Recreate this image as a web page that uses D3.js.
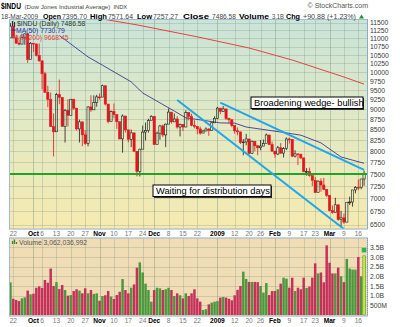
<!DOCTYPE html>
<html lang="en">
<head>
<meta charset="utf-8">
<title>$INDU daily</title>
<script src="https://d3js.org/d3.v7.min.js"></script>
<style>
  body { margin: 0; background: #fff; }
  svg text { font-family: "Liberation Sans", Arial, sans-serif; }
</style>
</head>
<body>
<div id="chart"></div>
<script>
"use strict";

// trading days shown on the chart
var dates = [
  '2008-09-19','2008-09-22','2008-09-23','2008-09-24','2008-09-25','2008-09-26','2008-09-29','2008-09-30',
  '2008-10-01','2008-10-02','2008-10-03','2008-10-06','2008-10-07','2008-10-08','2008-10-09','2008-10-10','2008-10-13','2008-10-14','2008-10-15','2008-10-16','2008-10-17','2008-10-20','2008-10-21','2008-10-22','2008-10-23','2008-10-24','2008-10-27','2008-10-28','2008-10-29','2008-10-30','2008-10-31',
  '2008-11-03','2008-11-04','2008-11-05','2008-11-06','2008-11-07','2008-11-10','2008-11-11','2008-11-12','2008-11-13','2008-11-14','2008-11-17','2008-11-18','2008-11-19','2008-11-20','2008-11-21','2008-11-24','2008-11-25','2008-11-26','2008-11-28',
  '2008-12-01','2008-12-02','2008-12-03','2008-12-04','2008-12-05','2008-12-08','2008-12-09','2008-12-10','2008-12-11','2008-12-12','2008-12-15','2008-12-16','2008-12-17','2008-12-18','2008-12-19','2008-12-22','2008-12-23','2008-12-24','2008-12-26','2008-12-29','2008-12-30','2008-12-31',
  '2009-01-02','2009-01-05','2009-01-06','2009-01-07','2009-01-08','2009-01-09','2009-01-12','2009-01-13','2009-01-14','2009-01-15','2009-01-16','2009-01-20','2009-01-21','2009-01-22','2009-01-23','2009-01-26','2009-01-27','2009-01-28','2009-01-29','2009-01-30',
  '2009-02-02','2009-02-03','2009-02-04','2009-02-05','2009-02-06','2009-02-09','2009-02-10','2009-02-11','2009-02-12','2009-02-13','2009-02-17','2009-02-18','2009-02-19','2009-02-20','2009-02-23','2009-02-24','2009-02-25','2009-02-26','2009-02-27',
  '2009-03-02','2009-03-03','2009-03-04','2009-03-05','2009-03-06','2009-03-09','2009-03-10','2009-03-11','2009-03-12','2009-03-13','2009-03-16','2009-03-17','2009-03-18'
];

var opens = [11019,11388,11016,10854,10825,11022,11143,10365,10851,10831,10483,10325,9956,9447,9258,8579,8451,9388,9311,8578,8979,8852,9265,9034,8519,8691,8379,8176,9065,8991,9181,
  9325,9320,9625,9139,8696,8944,8871,8694,8283,8835,8497,8274,8425,7997,7552,8046,8443,8479,8727,
  8829,8149,8419,8592,8376,8635,8934,8691,8761,8565,8630,8565,8924,8824,8605,8579,8520,8419,8468,8516,8484,8668,
  8776,9035,8953,9015,8770,8742,8599,8474,8449,8200,8212,8281,7949,8228,8123,8078,8116,8175,8375,8149,
  8001,7937,8078,7957,8063,8281,8271,7889,7940,7933,7850,7553,7556,7466,7366,7115,7351,7271,7182,
  7063,6763,6726,6876,6594,6627,6547,6926,6930,7170,7224,7217,7396];
var highs = [11483,11391,11112,10952,11145,11158,11143,10889,10852,10836,10844,10325,10012,9622,9439,8901,9427,9794,9311,9014,9266,9268,9265,9034,8746,8691,8492,9084,9368,9367,9381,
  9414,9654,9625,9139,8974,9153,8871,8694,8876,8835,8497,8505,8425,8005,8053,8599,8674,8767,8854,
  8829,8453,8618,8626,8651,9026,8934,8899,8831,8650,8630,8981,8924,8892,8733,8580,8577,8498,8557,8538,8681,8830,
  9065,9035,9089,9015,8794,8756,8605,8555,8449,8281,8400,8281,8242,8228,8142,8257,8268,8411,8375,8220,
  8002,8121,8185,8091,8315,8315,8271,8021,7940,7933,7850,7626,7637,7466,7440,7365,7411,7419,7183,
  7063,6863,7013,6876,6759,6710,6926,7037,7170,7248,7385,7396,7572];
var lows = [11019,11006,10840,10788,10825,10806,10266,10365,10584,10455,10300,9525,9440,9058,8565,7882,8451,9136,8578,8198,8575,8852,8990,8482,8199,8113,8143,8111,8940,8991,9071,
  9252,9320,9103,8653,8693,8781,8522,8273,7966,8434,8203,8092,7995,7450,7449,8046,8244,8432,8727,
  8142,8149,8263,8325,8093,8635,8648,8686,8525,8340,8469,8565,8727,8580,8533,8391,8380,8419,8468,8355,8484,8668,
  8760,8880,8940,8741,8652,8561,8404,8368,8164,7910,8135,7939,7941,7999,7909,8020,8113,8175,8143,7990,
  7853,7912,7940,7858,8025,8175,7865,7860,7693,7824,7536,7464,7444,7250,7113,7115,7134,7166,7027,
  6753,6705,6726,6573,6470,6517,6547,6871,6840,7104,7166,7184,7257];
var closes = [11388,11016,10854,10825,11022,11143,10365,10851,10831,10483,10325,9956,9447,9258,8579,8451,9388,9311,8578,8979,8852,9265,9034,8519,8691,8379,8176,9065,8991,9181,9325,
  9320,9625,9139,8696,8944,8871,8694,8283,8835,8497,8274,8425,7997,7552,8046,8443,8479,8727,8829,
  8149,8419,8592,8376,8635,8934,8691,8761,8565,8630,8565,8924,8824,8605,8579,8520,8419,8468,8516,8484,8668,8776,
  9035,8953,9015,8770,8742,8599,8474,8449,8200,8212,8281,7949,8228,8123,8078,8116,8175,8375,8149,8001,
  7937,8078,7957,8063,8281,8271,7889,7940,7933,7850,7553,7556,7466,7366,7115,7351,7271,7182,7063,
  6763,6726,6876,6594,6627,6547,6926,6930,7170,7224,7217,7396,7487];
// volume in billions of shares
var volumes = [1.69,0.84,0.78,0.72,0.86,0.91,1.26,1.07,1.10,1.41,1.48,1.40,1.81,1.67,2.40,1.50,1.70,1.34,1.55,1.29,1.00,1.03,1.24,1.33,1.26,1.12,1.38,1.12,1.29,1.09,1.12,
  0.74,0.98,1.02,1.24,0.95,0.83,1.03,1.20,1.86,1.29,1.12,1.41,1.58,2.45,2.72,2.20,1.62,1.29,0.69,
  1.29,1.41,1.38,1.29,1.33,1.41,1.29,0.98,1.12,1.02,0.86,1.12,0.98,1.12,1.33,0.86,0.69,0.26,0.30,0.55,0.64,0.69,
  0.72,0.90,0.93,0.90,0.84,0.76,1.02,1.30,1.50,2.24,1.86,1.71,1.71,1.71,1.70,1.50,1.16,1.65,1.03,1.24,
  1.24,1.33,1.62,1.93,1.88,1.41,1.93,1.24,1.41,1.33,1.93,1.40,1.47,1.93,2.67,2.15,2.20,1.69,3.60,
  2.70,2.15,2.15,2.45,2.00,1.70,2.90,2.40,2.35,2.35,3.00,2.00,3.06];

var ma50Dates = ['2008-10-14','2008-10-16','2008-10-28','2008-11-04','2008-11-18','2008-11-24','2008-12-03','2008-12-10','2008-12-16','2008-12-23','2009-01-05','2009-01-12','2009-01-16','2009-02-04','2009-02-13','2009-02-25','2009-03-06','2009-03-18'];
var ma50Values = [11090,10960,10440,10200,9730,9430,9170,8960,8790,8740,8665,8660,8565,8445,8370,8190,7870,7731];
var ma200Dates = ['2008-11-04','2008-11-20','2008-12-22','2009-01-20','2009-02-10','2009-03-09','2009-03-18'];
var ma200Values = [11620,11430,11050,10707,10350,9865,9668];

// trend lines drawn by the author: [date, price] pairs
var trendLines = [
  [['2008-12-11', 9244], ['2009-03-09', 6422]],
  [['2009-01-05', 9177], ['2009-03-18', 7588]]
];
var supportLevel = 7500;

var notes = [
  {text: 'Broadening wedge- bullish', date: '2009-01-21', price: 9323, w: 112},
  {text: 'Waiting for distribution days', date: '2008-12-01', price: 7270, w: 118}
];

var priceTicks = [6500,6750,7000,7250,7500,7750,8000,8250,8500,8750,9000,9250,9500,9750,10000,10250,10500,10750,11000,11250,11500];
var volTicks = [0.5,1.0,1.5,2.0,2.5,3.0,3.5];
var volTickLabels = ['500M','1.0B','1.5B','2.0B','2.5B','3.0B','3.5B'];
var tickDates = ['2008-09-22','2008-10-01','2008-10-06','2008-10-13','2008-10-20','2008-10-27','2008-11-03','2008-11-10','2008-11-17','2008-11-24','2008-12-01','2008-12-08','2008-12-15','2008-12-22','2009-01-02','2009-01-12','2009-01-20','2009-01-26','2009-02-02','2009-02-09','2009-02-17','2009-02-23','2009-03-02','2009-03-09','2009-03-16'];
var tickLabels = ['22','Oct','6','13','20','27','Nov','10','17','24','Dec','8','15','22','2009','12','20','26','Feb','9','17','23','Mar','9','16'];

var RED = '#e3141b', UP = '#1a1a1a';
var VRED = '#c4325c', VGREEN = '#4b983f';

var left = 9.5, right = 367.5;
var pTop = 19.5, pBot = 229, vTop = 238, vBot = 316;

var svg = d3.select('#chart').append('svg')
  .attr('width', 400).attr('height', 327);

var x = d3.scaleBand().domain(dates).range([9, 365.5]);
function cx(d) { return x(d) + x.bandwidth() / 2; }
var y = d3.scaleLog().domain([6500, 11500]).range([224.7, 22.7]);
var yv = d3.scaleLinear().domain([0, 3.5]).range([315, 247.3]);

var defs = svg.append('defs');
var grad = defs.append('linearGradient').attr('id', 'bgp')
  .attr('x1', 0).attr('y1', 0).attr('x2', 0).attr('y2', 1);
grad.append('stop').attr('offset', '0%').attr('stop-color', '#c9e4d9');
grad.append('stop').attr('offset', '50%').attr('stop-color', '#e2e9c4');
grad.append('stop').attr('offset', '100%').attr('stop-color', '#f6eab0');
defs.append('clipPath').attr('id', 'clipP').append('rect')
  .attr('x', left).attr('y', pTop).attr('width', right - left).attr('height', pBot - pTop);

/* panel backgrounds */
svg.append('rect').attr('x', left).attr('y', pTop).attr('width', right - left).attr('height', pBot - pTop)
  .attr('fill', 'url(#bgp)');
svg.append('rect').attr('x', left).attr('y', vTop).attr('width', right - left).attr('height', vBot - vTop)
  .attr('fill', '#f1ddb5');

/* gridlines */
var grid = svg.append('g').attr('stroke', '#7d9680').attr('stroke-opacity', 0.3).attr('stroke-width', 1);
grid.selectAll('.hp').data(priceTicks).enter().append('line')
  .attr('x1', left).attr('x2', right)
  .attr('y1', function(d) { return Math.round(y(d)) + 0.5; })
  .attr('y2', function(d) { return Math.round(y(d)) + 0.5; });
grid.selectAll('.hv').data(volTicks).enter().append('line')
  .attr('x1', left).attr('x2', right)
  .attr('y1', function(d) { return Math.round(yv(d)) + 0.5; })
  .attr('y2', function(d) { return Math.round(yv(d)) + 0.5; });
tickDates.forEach(function(d, i) {
  var xx = Math.round(cx(d)) + 0.5;
  var month = isNaN(+tickLabels[i]) || tickLabels[i].length == 4;
  [[pTop, pBot], [vTop, vBot]].forEach(function(r) {
    grid.append('line').attr('x1', xx).attr('x2', xx).attr('y1', r[0]).attr('y2', r[1])
      .attr('stroke-opacity', month ? 0.45 : 0.3);
  });
});

/* price marks */
var price = svg.append('g').attr('clip-path', 'url(#clipP)');

price.append('path')
  .datum(ma200Dates.map(function(d, i) { return [cx(d), y(ma200Values[i])]; }))
  .attr('d', d3.line()).attr('fill', 'none').attr('stroke', '#e8413f').attr('stroke-width', 1);
price.append('path')
  .datum(ma50Dates.map(function(d, i) { return [cx(d), y(ma50Values[i])]; }))
  .attr('d', d3.line()).attr('fill', 'none').attr('stroke', '#4b4a98').attr('stroke-width', 1);

var candles = price.selectAll('g.candle').data(dates).enter().append('g');
candles.append('path')
  .attr('d', function(d, i) {
    var top = y(Math.max(opens[i], closes[i])), bot = y(Math.min(opens[i], closes[i]));
    return 'M' + cx(d) + ',' + y(highs[i]) + 'V' + top + 'M' + cx(d) + ',' + bot + 'V' + y(lows[i]);
  })
  .attr('stroke', function(d, i) { return closes[i] < (i ? closes[i - 1] : opens[0]) ? RED : UP; })
  .attr('stroke-width', 0.8);
candles.append('rect')
  .attr('x', function(d) { return cx(d) - 1.1; })
  .attr('width', 2.2)
  .attr('y', function(d, i) { return y(Math.max(opens[i], closes[i])); })
  .attr('height', function(d, i) { return Math.max(0.8, Math.abs(y(opens[i]) - y(closes[i]))); })
  .attr('fill', function(d, i) { return closes[i] < opens[i] ? RED : 'none'; })
  .attr('stroke', function(d, i) { return closes[i] < (i ? closes[i - 1] : opens[0]) ? RED : UP; })
  .attr('stroke-width', 0.6);

price.append('line')
  .attr('x1', left).attr('x2', right)
  .attr('y1', y(supportLevel)).attr('y2', y(supportLevel))
  .attr('stroke', '#1fa42a').attr('stroke-width', 2);

price.selectAll('.trend').data(trendLines).enter().append('line')
  .attr('x1', function(d) { return cx(d[0][0]); })
  .attr('y1', function(d) { return y(d[0][1]); })
  .attr('x2', function(d) { return cx(d[1][0]); })
  .attr('y2', function(d) { return y(d[1][1]); })
  .attr('stroke', '#1ea7ea').attr('stroke-width', 2);

/* annotation boxes */
var note = svg.selectAll('g.note').data(notes).enter().append('g')
  .attr('transform', function(d) { return 'translate(' + Math.round(x(d.date)) + ',' + Math.round(y(d.price)) + ')'; });
note.append('rect').attr('x', 1).attr('y', 1).attr('width', function(d) { return d.w; }).attr('height', 12)
  .attr('fill', '#333');
note.append('rect').attr('x', 0).attr('y', 0).attr('width', function(d) { return d.w; }).attr('height', 11.5)
  .attr('fill', '#fff').attr('stroke', '#000').attr('stroke-width', 1);
note.append('text').attr('x', 3).attr('y', 9)
  .attr('font-size', 9.3).attr('fill', '#000')
  .text(function(d) { return d.text; });

/* volume */
var vg = svg.append('g');
vg.selectAll('rect').data(dates).enter().append('rect')
  .attr('x', function(d) { return cx(d) - 1.25; })
  .attr('width', 2.5)
  .attr('y', function(d, i) { return yv(volumes[i]); })
  .attr('height', function(d, i) { return yv(0) - yv(volumes[i]); })
  .attr('fill', function(d, i) {
    if (i == dates.length - 1) return '#c9e640';
    return closes[i] < (i ? closes[i - 1] : opens[0]) ? VRED : VGREEN;
  })
  .attr('stroke', function(d, i) { return i == dates.length - 1 ? '#5a9a2a' : 'none'; })
  .attr('stroke-width', 0.6);
var last = dates[dates.length - 1];
vg.append('rect').attr('x', cx(last) - 2.3).attr('y', yv(volumes[volumes.length - 1]) - 8)
  .attr('width', 4.6).attr('height', 4.6).attr('fill', '#2fb34a');

/* white date bands */
svg.append('rect').attr('x', left).attr('y', pBot).attr('width', right - left).attr('height', vTop - pBot).attr('fill', '#fff');
svg.append('rect').attr('x', left).attr('y', vBot).attr('width', right - left).attr('height', 10).attr('fill', '#fff');

/* frames */
[[pTop, pBot], [vTop, vBot]].forEach(function(r) {
  svg.append('rect').attr('x', left).attr('y', r[0]).attr('width', right - left).attr('height', r[1] - r[0])
    .attr('fill', 'none').attr('stroke', '#9fbcd3').attr('stroke-width', 1);
  svg.append('line').attr('x1', right).attr('x2', right).attr('y1', r[0]).attr('y2', r[1])
    .attr('stroke', '#6f9cc4').attr('stroke-dasharray', '1,1');
});
[pBot, vTop, vBot].forEach(function(yy) {
  svg.append('line').attr('x1', left).attr('x2', right).attr('y1', yy).attr('y2', yy)
    .attr('stroke', '#bbb').attr('stroke-dasharray', '1,1');
});

/* axes */
function styleAxis(g, size) {
  g.select('.domain').remove();
  g.selectAll('text').attr('font-size', size).attr('font-family', '"Liberation Sans", Arial, sans-serif');
}
var ay = svg.append('g').attr('transform', 'translate(' + right + ',0)')
  .call(d3.axisRight(y).tickValues(priceTicks).tickSize(0).tickPadding(2.5).tickFormat(d3.format('d')));
styleAxis(ay, 6.8);
ay.selectAll('text').attr('fill', '#3a3a3a');

var avy = svg.append('g').attr('transform', 'translate(' + right + ',0)')
  .call(d3.axisRight(yv).tickValues(volTicks).tickSize(0).tickPadding(2.5)
    .tickFormat(function(d, i) { return volTickLabels[i]; }));
styleAxis(avy, 6.8);
avy.selectAll('text').attr('fill', '#3a3a3a');

[pBot, vBot].forEach(function(yy) {
  var ax = svg.append('g').attr('transform', 'translate(0,' + yy + ')')
    .call(d3.axisBottom(x).tickValues(tickDates).tickSize(0).tickPadding(2)
      .tickFormat(function(d, i) { return tickLabels[i]; }));
  styleAxis(ax, 6.6);
  ax.selectAll('text')
    .attr('font-weight', function(d, i) { return isNaN(+tickLabels[i]) || tickLabels[i].length == 4 ? 'bold' : 'normal'; })
    .attr('fill', function(d, i) { return isNaN(+tickLabels[i]) || tickLabels[i].length == 4 ? '#000' : '#777'; });
});

/* legends */
var lg = svg.append('g').attr('font-size', 6.8);
lg.append('path').attr('d', 'M12.5,21V26M14.5,22V27').attr('stroke', '#333').attr('stroke-width', 1.2);
lg.append('text').attr('x', 17).attr('y', 26).attr('fill', '#333').text('$INDU (Daily) 7486.58');
lg.append('line').attr('x1', 12).attr('x2', 15.5).attr('y1', 30).attr('y2', 30).attr('stroke', '#3030a0').attr('stroke-width', 1.2);
lg.append('text').attr('x', 16).attr('y', 32.5).attr('fill', '#3030a0').text('MA(50) 7730.79');
lg.append('line').attr('x1', 12).attr('x2', 15.5).attr('y1', 37).attr('y2', 37).attr('stroke', '#e8413f').attr('stroke-width', 1.2);
lg.append('text').attr('x', 16).attr('y', 39.5).attr('fill', '#e8413f').text('MA(200) 9668.45');

lg.append('path').attr('d', 'M12.5,244V241M14.5,244V239.5M16.5,244V242').attr('stroke', '#3a8a30').attr('stroke-width', 1.3);
lg.append('text').attr('x', 19).attr('y', 244.5).attr('fill', '#555').text('Volume 3,062,036,992');

/* header */
var hd = svg.append('g');
hd.append('text').attr('x', 1).attr('y', 8.5).attr('font-size', 8.5).attr('font-weight', 'bold')
  .attr('textLength', 20).attr('lengthAdjust', 'spacingAndGlyphs').text('$INDU');
var sub = hd.append('text').attr('x', 24.5).attr('y', 8.5).attr('font-size', 6.2).attr('fill', '#444');
sub.append('tspan').text('(Dow Jones Industrial Average)');
sub.append('tspan').attr('dx', 3).attr('font-size', 5.8).text('INDX');
hd.append('text').attr('x', 368).attr('y', 8).attr('font-size', 7).attr('fill', '#555')
  .attr('text-anchor', 'end').text('\u00a9 StockCharts.com');

var line2 = [
  ['18-Mar-2009', 1, 37, false], ['Open', 43, 18, true], ['7395.70', 62, 25, false],
  ['High', 90, 17, true], ['7571.64', 108, 25, false], ['Low', 137, 15, true], ['7257.27', 153, 25, false],
  ['Close', 183, 26, true], ['7486.58', 212, 24, false], ['Volume', 239, 30, true], ['3.1B', 272, 12, false],
  ['Chg', 286, 14, true], ['+90.88 (+1.23%)', 303, 53, false]
];
line2.forEach(function(s) {
  hd.append('text').attr('x', s[1]).attr('y', 18.5)
    .attr('font-size', s[3] ? 7.5 : 7).attr('font-weight', s[3] ? 'bold' : 'normal')
    .attr('fill', s[3] ? '#000' : '#444')
    .attr('textLength', s[2]).attr('lengthAdjust', 'spacingAndGlyphs').text(s[0]);
});
hd.append('path').attr('d', 'M359,18.5L364,18.5L361.5,14.5Z').attr('fill', '#1a9a2a');
</script>
</body>
</html>
